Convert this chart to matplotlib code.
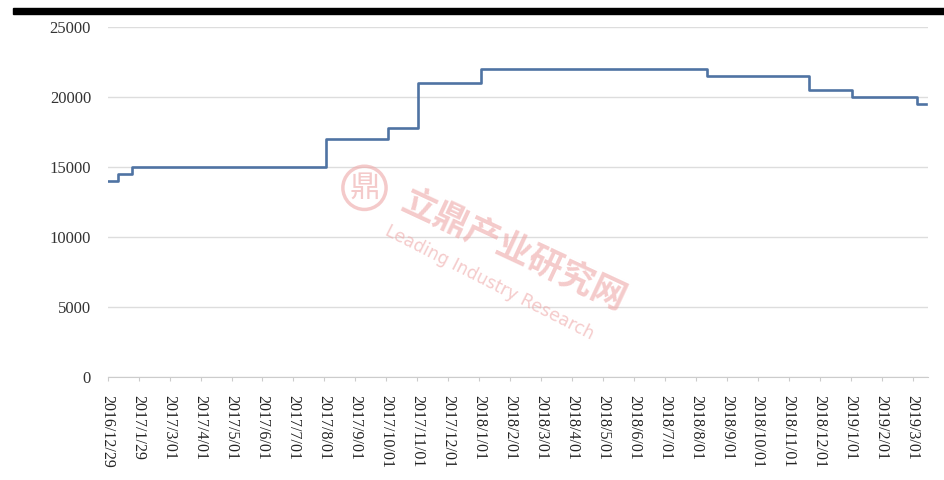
import matplotlib.pyplot as plt
from matplotlib.patches import Rectangle

# tick labels along the x axis (one per month)
date_labels = ["2016/12/29", "2017/1/29", "2017/3/01", "2017/4/01", "2017/5/01",
               "2017/6/01", "2017/7/01", "2017/8/01", "2017/9/01", "2017/10/01",
               "2017/11/01", "2017/12/01", "2018/1/01", "2018/2/01", "2018/3/01",
               "2018/4/01", "2018/5/01", "2018/6/01", "2018/7/01", "2018/8/01",
               "2018/9/01", "2018/10/01", "2018/11/01", "2018/12/01", "2019/1/01",
               "2019/2/01", "2019/3/01"]

# where the price changes (in label-index units) and the new level
step_x = [0, 0.32, 0.77, 7.04, 9.04, 10.03, 12.06, 19.35, 22.65, 24.05, 26.15, 26.45]
step_y = [14000, 14500, 15000, 17000, 17800, 21000, 22000, 21500, 20500, 20000, 19500, 19500]

y_ticks = [0, 5000, 10000, 15000, 20000, 25000]

fig = plt.figure(figsize=(9.45, 4.8), dpi=100)
ax = fig.add_axes([0.114, 0.215, 0.868, 0.729])

ax.plot(step_x, step_y, drawstyle="steps-post", color="#4f73a3", lw=1.9, zorder=3)

ax.set_ylim(0, 25000)
ax.set_xlim(0, 26.5)
ax.set_yticks(y_ticks)
ax.set_yticklabels([str(v) for v in y_ticks], fontfamily="Liberation Serif",
                   fontsize=12, color="#333333")
ax.set_xticks(range(len(date_labels)))
ax.set_xticklabels(date_labels, rotation=-90, fontfamily="Liberation Serif",
                   fontsize=11.5, color="#222222", va="top", ha="center")

ax.yaxis.grid(True, color="#dddddd", lw=1)
ax.set_axisbelow(True)
for s in ["top", "right", "left"]:
    ax.spines[s].set_visible(False)
ax.spines["bottom"].set_color("#cccccc")
ax.tick_params(axis="y", length=0, pad=12)
ax.tick_params(axis="x", length=3, color="#cccccc", pad=10)

# watermark
wm = "#eea8a8"
ax.text(0.495, 0.36, "立鼎产业研究网", transform=ax.transAxes, rotation=-25,
        fontsize=25, fontweight="bold", color=wm, alpha=0.6,
        family=["Noto Sans CJK SC", "DejaVu Sans"], ha="center", va="center")
ax.text(0.465, 0.27, "Leading Industry Research", transform=ax.transAxes, rotation=-27,
        fontsize=12.5, color=wm, alpha=0.6, ha="center", va="center")
ax.text(0.313, 0.54, "鼎", transform=ax.transAxes, fontsize=22, color=wm,
        alpha=0.6, family=["Noto Sans CJK SC", "DejaVu Sans"], ha="center", va="center",
        bbox=dict(boxstyle="circle,pad=0.2", fc="none", ec=wm, lw=2.5, alpha=0.6))

# black bar along the top of the scan
fig.patches.append(Rectangle((0.014, 0.971), 0.986, 0.012, transform=fig.transFigure,
                             color="black", zorder=10))

fig.savefig("out.png", dpi=100)
